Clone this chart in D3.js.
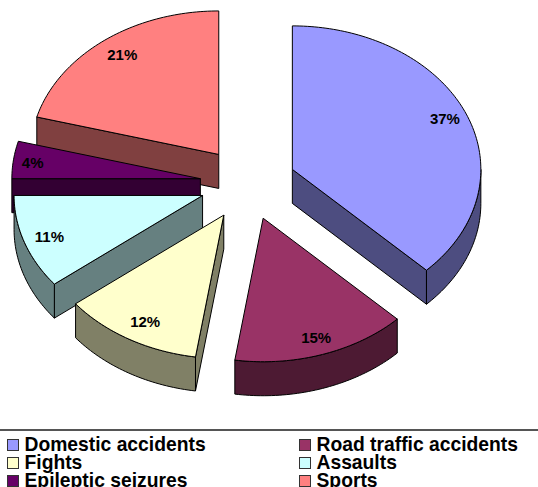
<!DOCTYPE html>
<html>
<head>
<meta charset="utf-8">
<script src="https://cdn.jsdelivr.net/npm/d3@7"></script>
<style>
  html, body { margin: 0; padding: 0; background: #fff; overflow: hidden; }
  svg { display: block; }
  text { font-family: "Liberation Sans", Arial, sans-serif; font-weight: 700; fill: #000; }
</style>
</head>
<body>
<div id="chart"></div>
<script>
const categories = ["Domestic accidents", "Road traffic accidents", "Fights", "Assaults", "Epileptic seizures", "Sports"];
// Unrounded shares, the labels show them rounded
const shares = [37.4, 15, 12, 10.6, 4.2, 20.8];
const topColors = ["#9999ff", "#993366", "#ffffcc", "#ccffff", "#660066", "#ff8080"];
const wallColors = ["#4d4d80", "#4d1a33", "#808066", "#668080", "#330033", "#804040"];

const width = 538;
const height = 487;

const centerX = 248;
const centerY = 183.5;
const radiusX = 188.5;
const radiusY = 143.5;
const depth = 34;
const explode = 0.255;
const labelRadius = 0.86;

// Hand nudges for the percent labels, same order as categories
const labelNudgeX = [3, 2, 3, 0, -7, 2];
const labelNudgeY = [-3, 2, 0, 1, 0, -2];

const svg = d3.select("#chart")
  .append("svg")
    .attr("width", width)
    .attr("height", height);

/****************************/
/*        The 3D pie        */
/****************************/
const xScale = d3.scaleLinear().domain([-1, 1]).range([-radiusX, radiusX]);
const yScale = d3.scaleLinear().domain([-1, 1]).range([-radiusY, radiusY]);

// Angles run clockwise from 12 o'clock, like d3.pie
const pieData = d3.pie().sort(null)(shares);

const rimX = a => xScale(Math.sin(a));
const rimY = a => yScale(-Math.cos(a));
const midAngle = d => (d.startAngle + d.endAngle) / 2;
const arcAngles = (a0, a1) => {
  const n = Math.max(2, Math.ceil((a1 - a0) / 0.02));
  return d3.range(n + 1).map(i => a0 + (a1 - a0) * i / n);
};

const path = d3.line();

const slices = svg.selectAll(".slice")
  .data(pieData)
  .join("g")
    .attr("class", "slice")
    .attr("transform", d => `translate(${centerX + explode * rimX(midAngle(d))}, ${centerY + explode * rimY(midAngle(d))})`)
    .attr("stroke", "#000")
    .attr("stroke-width", 1)
    .attr("stroke-linejoin", "round")
    // Paint back to front
    .sort((a, b) => rimY(midAngle(a)) - rimY(midAngle(b)));

// Only the radial walls that face the viewer
const radialWall = a => path([[0, 0], [rimX(a), rimY(a)], [rimX(a), rimY(a) + depth], [0, depth]]) + "Z";

slices.filter(d => Math.sin(d.startAngle) < -1e-6)
  .append("path")
    .attr("d", d => radialWall(d.startAngle))
    .attr("fill", d => wallColors[d.index]);

slices.filter(d => Math.sin(d.endAngle) > 1e-6)
  .append("path")
    .attr("d", d => radialWall(d.endAngle))
    .attr("fill", d => wallColors[d.index]);

// Outer wall, front half of the rim only
const frontFrom = Math.PI / 2;
const frontTo = Math.PI * 1.5;

slices.filter(d => d.startAngle < frontTo && d.endAngle > frontFrom)
  .append("path")
    .attr("d", d => {
      const angles = arcAngles(Math.max(d.startAngle, frontFrom), Math.min(d.endAngle, frontTo));
      const upper = angles.map(a => [rimX(a), rimY(a)]);
      const lower = angles.slice().reverse().map(a => [rimX(a), rimY(a) + depth]);
      return path(upper.concat(lower)) + "Z";
    })
    .attr("fill", d => wallColors[d.index]);

slices.append("path")
  .attr("d", d => {
    const rim = arcAngles(d.startAngle, d.endAngle).map(a => [rimX(a), rimY(a)]);
    return path([[0, 0], ...rim]) + "Z";
  })
  .attr("fill", d => topColors[d.index]);

slices.append("text")
  .attr("x", d => labelRadius * rimX(midAngle(d)) + labelNudgeX[d.index])
  .attr("y", d => labelRadius * rimY(midAngle(d)) + labelNudgeY[d.index])
  .attr("text-anchor", "middle")
  .attr("dy", "0.36em")
  .attr("stroke", "none")
  .style("font-size", "15px")
  .text(d => `${Math.round(d.data)}%`);

/****************************/
/*          Legend          */
/****************************/
const legendX = d3.scalePoint().domain([0, 1]).range([7, 299]);
const legendY = d3.scaleLinear().domain([0, 1]).range([445, 463]);

svg.append("line")
  .attr("x1", 0)
  .attr("x2", width)
  .attr("y1", 430)
  .attr("y2", 430)
  .attr("stroke", "#555")
  .attr("stroke-width", 2);

const legendItems = svg.selectAll(".legend-item")
  .data(categories)
  .join("g")
    .attr("class", "legend-item")
    .attr("transform", (d, i) => `translate(${legendX(i % 2)}, ${legendY(Math.floor(i / 2))})`);

legendItems.append("rect")
  .attr("x", 0.5)
  .attr("y", -5.5)
  .attr("width", 11)
  .attr("height", 11)
  .attr("fill", (d, i) => topColors[i])
  .attr("stroke", "#333")
  .attr("stroke-width", 1);

legendItems.append("text")
  .attr("x", 17.5)
  .attr("y", 6)
  .style("font-size", "19.3px")
  .text(d => d);
</script>
</body>
</html>
